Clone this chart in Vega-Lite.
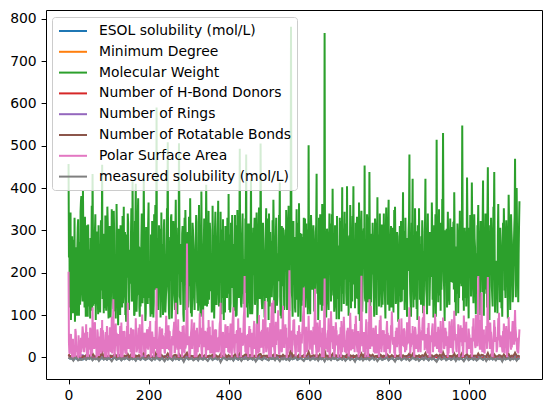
{
  "$schema": "https://vega.github.io/schema/vega-lite/v6.json",
  "width": 496,
  "height": 369,
  "autosize": {"type": "none"},
  "padding": {"left": 46, "top": 10, "right": 10, "bottom": 34},
  "background": "white",
  "datasets": {
    "small": [
{"i":0,"e":-1.0,"d":1,"h":7,"r":3,"b":7,"m":-0.8},
{"i":4,"e":-2.9,"d":1,"h":1,"r":2,"b":2,"m":-3.3},
{"i":8,"e":-2.6,"d":1,"h":0,"r":0,"b":4,"m":-2.1},
{"i":12,"e":-6.6,"d":2,"h":0,"r":5,"b":0,"m":-7.9},
{"i":16,"e":-2.2,"d":2,"h":0,"r":1,"b":0,"m":-1.3},
{"i":20,"e":-2.7,"d":2,"h":0,"r":2,"b":0,"m":-1.5},
{"i":24,"e":-6.5,"d":1,"h":0,"r":2,"b":1,"m":-7.3},
{"i":28,"e":-4.1,"d":1,"h":2,"r":4,"b":0,"m":-5.0},
{"i":32,"e":-4.5,"d":1,"h":0,"r":5,"b":0,"m":-6.3},
{"i":36,"e":-5.2,"d":1,"h":0,"r":5,"b":3,"m":-4.4},
{"i":40,"e":-1.8,"d":1,"h":1,"r":1,"b":2,"m":-2.0},
{"i":44,"e":-4.9,"d":1,"h":2,"r":3,"b":5,"m":-5.6},
{"i":48,"e":-1.4,"d":1,"h":0,"r":0,"b":1,"m":-1.1},
{"i":52,"e":-3.5,"d":1,"h":1,"r":2,"b":4,"m":-3.9},
{"i":56,"e":-0.9,"d":2,"h":0,"r":1,"b":0,"m":-0.4},
{"i":60,"e":-5.8,"d":1,"h":3,"r":3,"b":9,"m":-6.8},
{"i":64,"e":-2.4,"d":1,"h":0,"r":1,"b":3,"m":-2.6},
{"i":68,"e":-4.0,"d":1,"h":0,"r":0,"b":1,"m":-4.7},
{"i":72,"e":-2.3,"d":1,"h":2,"r":2,"b":6,"m":-1.9},
{"i":76,"e":-7.1,"d":2,"h":0,"r":2,"b":0,"m":-8.4},
{"i":80,"e":-3.4,"d":1,"h":1,"r":2,"b":4,"m":-3.1},
{"i":84,"e":-1.2,"d":1,"h":4,"r":2,"b":12,"m":-0.2},
{"i":88,"e":-4.6,"d":2,"h":0,"r":1,"b":0,"m":-5.2},
{"i":92,"e":-2.9,"d":1,"h":0,"r":3,"b":5,"m":-2.4},
{"i":96,"e":-5.1,"d":1,"h":1,"r":1,"b":2,"m":-6.0},
{"i":100,"e":-1.9,"d":1,"h":0,"r":0,"b":3,"m":-1.6},
{"i":104,"e":-3.7,"d":1,"h":1,"r":2,"b":4,"m":-4.1},
{"i":108,"e":-7.6,"d":1,"h":1,"r":4,"b":2,"m":-9.3},
{"i":112,"e":-2.1,"d":1,"h":4,"r":0,"b":3,"m":-2.8},
{"i":116,"e":-1.3,"d":1,"h":0,"r":1,"b":7,"m":-0.7},
{"i":120,"e":-5.0,"d":1,"h":1,"r":4,"b":3,"m":-5.5},
{"i":124,"e":-3.1,"d":2,"h":0,"r":1,"b":0,"m":-3.6},
{"i":128,"e":-1.7,"d":1,"h":1,"r":1,"b":5,"m":-1.2},
{"i":132,"e":-6.2,"d":1,"h":0,"r":3,"b":2,"m":-7.0},
{"i":136,"e":-2.6,"d":1,"h":0,"r":1,"b":1,"m":-2.2},
{"i":140,"e":-4.2,"d":1,"h":1,"r":2,"b":4,"m":-4.6},
{"i":144,"e":-1.5,"d":2,"h":0,"r":0,"b":2,"m":-0.9},
{"i":148,"e":-3.0,"d":1,"h":3,"r":2,"b":8,"m":-3.4},
{"i":152,"e":-5.8,"d":1,"h":0,"r":2,"b":1,"m":-6.5},
{"i":156,"e":-2.2,"d":1,"h":1,"r":2,"b":6,"m":-1.8},
{"i":160,"e":-4.4,"d":1,"h":1,"r":4,"b":3,"m":-4.9},
{"i":164,"e":-2.4,"d":2,"h":0,"r":1,"b":0,"m":-2.7},
{"i":168,"e":-6.9,"d":1,"h":2,"r":4,"b":4,"m":-8.0},
{"i":172,"e":-1.6,"d":1,"h":0,"r":1,"b":2,"m":-1.4},
{"i":176,"e":-3.3,"d":1,"h":1,"r":2,"b":5,"m":-3.0},
{"i":180,"e":-5.0,"d":1,"h":0,"r":1,"b":1,"m":-5.9},
{"i":184,"e":-1.1,"d":1,"h":3,"r":2,"b":7,"m":-0.6},
{"i":188,"e":-3.0,"d":1,"h":1,"r":3,"b":10,"m":-2.5},
{"i":192,"e":-5.5,"d":2,"h":0,"r":1,"b":0,"m":-6.2},
{"i":196,"e":-3.5,"d":1,"h":1,"r":2,"b":3,"m":-3.8},
{"i":200,"e":-1.4,"d":1,"h":1,"r":3,"b":5,"m":-1.0},
{"i":204,"e":-4.0,"d":1,"h":2,"r":1,"b":3,"m":-4.3},
{"i":208,"e":-6.6,"d":1,"h":0,"r":3,"b":1,"m":-7.6},
{"i":212,"e":-2.3,"d":2,"h":0,"r":1,"b":0,"m":-2.0},
{"i":216,"e":-4.6,"d":1,"h":0,"r":3,"b":4,"m":-5.1},
{"i":220,"e":-1.0,"d":1,"h":5,"r":4,"b":14,"m":-0.3},
{"i":224,"e":-3.0,"d":1,"h":0,"r":1,"b":2,"m":-3.2},
{"i":228,"e":-5.9,"d":1,"h":1,"r":3,"b":4,"m":-6.7},
{"i":232,"e":-2.0,"d":1,"h":1,"r":2,"b":6,"m":-1.7},
{"i":236,"e":-3.6,"d":1,"h":1,"r":0,"b":2,"m":-4.0},
{"i":240,"e":-7.8,"d":1,"h":0,"r":3,"b":1,"m":-9.0},
{"i":244,"e":-2.5,"d":1,"h":2,"r":1,"b":3,"m":-2.3},
{"i":248,"e":-4.8,"d":1,"h":1,"r":4,"b":9,"m":-5.4},
{"i":252,"e":-1.5,"d":1,"h":1,"r":0,"b":2,"m":-1.1},
{"i":256,"e":-3.4,"d":2,"h":0,"r":3,"b":2,"m":-3.7},
{"i":260,"e":-6.3,"d":1,"h":0,"r":2,"b":1,"m":-7.2},
{"i":264,"e":-1.0,"d":1,"h":2,"r":1,"b":5,"m":-0.5},
{"i":268,"e":-4.3,"d":1,"h":3,"r":3,"b":6,"m":-4.8},
{"i":272,"e":-2.6,"d":1,"h":0,"r":1,"b":1,"m":-2.9},
{"i":276,"e":-5.4,"d":1,"h":1,"r":4,"b":8,"m":-6.1},
{"i":280,"e":-1.9,"d":1,"h":0,"r":1,"b":3,"m":-1.5},
{"i":284,"e":-3.2,"d":2,"h":0,"r":3,"b":1,"m":-3.5},
{"i":288,"e":-8.6,"d":1,"h":0,"r":1,"b":0,"m":-10.4},
{"i":292,"e":-2.8,"d":1,"h":1,"r":2,"b":6,"m":-2.6},
{"i":296,"e":-1.3,"d":1,"h":6,"r":2,"b":11,"m":-0.8},
{"i":300,"e":-4.5,"d":1,"h":0,"r":2,"b":2,"m":-5.0},
{"i":304,"e":-3.1,"d":1,"h":0,"r":3,"b":4,"m":-3.3},
{"i":308,"e":-2.2,"d":1,"h":2,"r":0,"b":3,"m":-1.9},
{"i":312,"e":-6.0,"d":1,"h":0,"r":3,"b":2,"m":-6.9},
{"i":316,"e":-3.9,"d":1,"h":1,"r":2,"b":4,"m":-4.2},
{"i":320,"e":-2.4,"d":2,"h":0,"r":2,"b":1,"m":-2.1},
{"i":324,"e":-6.5,"d":1,"h":0,"r":2,"b":1,"m":-7.4},
{"i":328,"e":-0.9,"d":1,"h":3,"r":1,"b":6,"m":-0.4},
{"i":332,"e":-3.5,"d":1,"h":0,"r":4,"b":3,"m":-3.9},
{"i":336,"e":-4.9,"d":1,"h":2,"r":0,"b":2,"m":-5.7},
{"i":340,"e":-1.8,"d":1,"h":1,"r":2,"b":5,"m":-1.3},
{"i":344,"e":-4.1,"d":1,"h":0,"r":4,"b":2,"m":-4.5},
{"i":348,"e":-7.4,"d":1,"h":1,"r":2,"b":2,"m":-8.6},
{"i":352,"e":-2.6,"d":1,"h":1,"r":2,"b":4,"m":-2.4},
{"i":356,"e":-1.4,"d":1,"h":0,"r":1,"b":3,"m":-0.9},
{"i":360,"e":-5.6,"d":1,"h":2,"r":3,"b":6,"m":-6.3},
{"i":364,"e":-3.2,"d":2,"h":0,"r":1,"b":0,"m":-3.0},
{"i":368,"e":-1.9,"d":1,"h":1,"r":2,"b":5,"m":-1.6},
{"i":372,"e":-4.8,"d":1,"h":0,"r":2,"b":2,"m":-5.3},
{"i":376,"e":-2.5,"d":1,"h":0,"r":1,"b":1,"m":-2.7},
{"i":380,"e":-9.2,"d":1,"h":3,"r":3,"b":8,"m":-11.6},
{"i":384,"e":-3.8,"d":1,"h":1,"r":2,"b":3,"m":-4.1},
{"i":388,"e":-1.0,"d":2,"h":0,"r":0,"b":1,"m":-0.6},
{"i":392,"e":-3.3,"d":1,"h":1,"r":2,"b":6,"m":-3.6},
{"i":396,"e":-5.9,"d":1,"h":0,"r":2,"b":1,"m":-6.6},
{"i":400,"e":-2.3,"d":1,"h":0,"r":3,"b":5,"m":-1.9},
{"i":404,"e":-4.4,"d":1,"h":1,"r":1,"b":2,"m":-4.7},
{"i":408,"e":-2.0,"d":1,"h":0,"r":2,"b":3,"m":-2.2},
{"i":412,"e":-6.8,"d":1,"h":2,"r":2,"b":2,"m":-7.8},
{"i":416,"e":-0.9,"d":1,"h":1,"r":2,"b":7,"m":-0.2},
{"i":420,"e":-3.2,"d":1,"h":1,"r":1,"b":1,"m":-3.4},
{"i":424,"e":-5.2,"d":1,"h":2,"r":2,"b":4,"m":-5.8},
{"i":428,"e":-1.9,"d":1,"h":0,"r":4,"b":10,"m":-1.4},
{"i":432,"e":-7.0,"d":1,"h":1,"r":1,"b":1,"m":-8.2},
{"i":436,"e":-2.9,"d":1,"h":0,"r":2,"b":3,"m":-2.8},
{"i":440,"e":-4.0,"d":1,"h":4,"r":1,"b":5,"m":-4.4},
{"i":444,"e":-1.2,"d":1,"h":0,"r":3,"b":9,"m":-0.7},
{"i":448,"e":-5.3,"d":2,"h":1,"r":1,"b":0,"m":-6.0},
{"i":452,"e":-3.0,"d":1,"h":2,"r":2,"b":5,"m":-3.1},
{"i":456,"e":-2.1,"d":1,"h":1,"r":3,"b":6,"m":-1.8},
{"i":460,"e":-4.9,"d":1,"h":0,"r":2,"b":1,"m":-5.5},
{"i":464,"e":-2.8,"d":1,"h":2,"r":2,"b":4,"m":-2.5},
{"i":468,"e":-8.3,"d":1,"h":1,"r":3,"b":2,"m":-9.7},
{"i":472,"e":-3.6,"d":1,"h":0,"r":0,"b":2,"m":-4.0},
{"i":476,"e":-1.6,"d":1,"h":3,"r":2,"b":7,"m":-1.2},
{"i":480,"e":-3.5,"d":1,"h":1,"r":4,"b":8,"m":-3.8},
{"i":484,"e":-5.6,"d":1,"h":1,"r":2,"b":1,"m":-6.4},
{"i":488,"e":-1.1,"d":2,"h":0,"r":1,"b":4,"m":-0.5},
{"i":492,"e":-2.7,"d":1,"h":3,"r":1,"b":3,"m":-2.9},
{"i":496,"e":-4.7,"d":1,"h":1,"r":3,"b":4,"m":-5.1},
{"i":500,"e":-6.2,"d":1,"h":0,"r":1,"b":0,"m":-7.1},
{"i":504,"e":-1.9,"d":1,"h":2,"r":2,"b":5,"m":-1.6},
{"i":508,"e":-3.8,"d":1,"h":3,"r":1,"b":3,"m":-4.3},
{"i":512,"e":-2.4,"d":1,"h":3,"r":2,"b":6,"m":-2.0},
{"i":516,"e":-5.9,"d":2,"h":0,"r":2,"b":0,"m":-6.8},
{"i":520,"e":-1.3,"d":1,"h":1,"r":1,"b":5,"m":-0.9},
{"i":524,"e":-3.3,"d":1,"h":2,"r":1,"b":4,"m":-3.5},
{"i":528,"e":-7.5,"d":1,"h":0,"r":4,"b":3,"m":-8.8},
{"i":532,"e":-2.5,"d":1,"h":0,"r":1,"b":1,"m":-2.3},
{"i":536,"e":-4.3,"d":1,"h":2,"r":2,"b":6,"m":-4.9},
{"i":540,"e":-1.5,"d":1,"h":1,"r":1,"b":2,"m":-1.0},
{"i":544,"e":-5.2,"d":1,"h":1,"r":3,"b":4,"m":-5.9},
{"i":548,"e":-3.0,"d":1,"h":0,"r":2,"b":1,"m":-3.2},
{"i":552,"e":-6.3,"d":1,"h":4,"r":1,"b":4,"m":-7.5},
{"i":556,"e":-1.9,"d":1,"h":3,"r":6,"b":20,"m":-1.7},
{"i":560,"e":-4.1,"d":1,"h":1,"r":1,"b":1,"m":-4.6},
{"i":564,"e":-2.8,"d":1,"h":2,"r":2,"b":5,"m":-2.6},
{"i":568,"e":-0.8,"d":2,"h":0,"r":1,"b":2,"m":-0.3},
{"i":572,"e":-5.5,"d":1,"h":1,"r":2,"b":1,"m":-6.2},
{"i":576,"e":-3.4,"d":1,"h":1,"r":3,"b":6,"m":-3.7},
{"i":580,"e":-1.7,"d":1,"h":0,"r":0,"b":2,"m":-1.5},
{"i":584,"e":-4.6,"d":1,"h":1,"r":2,"b":3,"m":-5.2},
{"i":588,"e":-7.2,"d":1,"h":4,"r":3,"b":5,"m":-8.4},
{"i":592,"e":-2.3,"d":1,"h":1,"r":1,"b":2,"m":-2.1},
{"i":596,"e":-3.9,"d":1,"h":0,"r":2,"b":4,"m":-4.1},
{"i":600,"e":-1.1,"d":1,"h":1,"r":3,"b":13,"m":-0.8},
{"i":604,"e":-5.8,"d":1,"h":1,"r":2,"b":1,"m":-6.9},
{"i":608,"e":-3.0,"d":2,"h":0,"r":1,"b":3,"m":-3.3},
{"i":612,"e":-2.0,"d":1,"h":2,"r":2,"b":5,"m":-1.9},
{"i":616,"e":-4.9,"d":1,"h":4,"r":1,"b":3,"m":-5.6},
{"i":620,"e":-2.5,"d":1,"h":0,"r":4,"b":6,"m":-2.4},
{"i":624,"e":-6.5,"d":1,"h":1,"r":1,"b":0,"m":-7.7},
{"i":628,"e":-0.9,"d":1,"h":2,"r":1,"b":7,"m":-0.6},
{"i":632,"e":-4.0,"d":1,"h":1,"r":2,"b":3,"m":-4.5},
{"i":636,"e":-2.8,"d":1,"h":0,"r":1,"b":2,"m":-3.0},
{"i":640,"e":-7.9,"d":1,"h":4,"r":5,"b":16,"m":-9.4},
{"i":644,"e":-1.6,"d":1,"h":1,"r":1,"b":1,"m":-1.3},
{"i":648,"e":-4.4,"d":1,"h":2,"r":2,"b":4,"m":-5.0},
{"i":652,"e":-2.5,"d":2,"h":0,"r":3,"b":2,"m":-2.7},
{"i":656,"e":-5.5,"d":1,"h":2,"r":2,"b":3,"m":-6.5},
{"i":660,"e":-0.8,"d":1,"h":1,"r":3,"b":8,"m":-0.4},
{"i":664,"e":-3.7,"d":1,"h":0,"r":1,"b":1,"m":-3.9},
{"i":668,"e":-1.9,"d":1,"h":2,"r":2,"b":5,"m":-1.8},
{"i":672,"e":-6.1,"d":1,"h":1,"r":2,"b":2,"m":-7.0},
{"i":676,"e":-4.2,"d":1,"h":0,"r":0,"b":3,"m":-4.8},
{"i":680,"e":-2.4,"d":1,"h":1,"r":2,"b":6,"m":-2.2},
{"i":684,"e":-5.0,"d":1,"h":0,"r":4,"b":3,"m":-5.7},
{"i":688,"e":-1.4,"d":1,"h":2,"r":1,"b":2,"m":-1.1},
{"i":692,"e":-6.9,"d":1,"h":1,"r":3,"b":2,"m":-8.1},
{"i":696,"e":-3.2,"d":1,"h":1,"r":3,"b":7,"m":-3.4},
{"i":700,"e":-1.0,"d":2,"h":0,"r":1,"b":0,"m":-0.7},
{"i":704,"e":-5.3,"d":1,"h":2,"r":3,"b":5,"m":-6.1},
{"i":708,"e":-2.9,"d":1,"h":1,"r":1,"b":3,"m":-2.9},
{"i":712,"e":-3.8,"d":1,"h":0,"r":4,"b":4,"m":-4.2},
{"i":716,"e":-8.4,"d":1,"h":2,"r":2,"b":1,"m":-10.1},
{"i":720,"e":-1.7,"d":1,"h":0,"r":2,"b":5,"m":-1.4},
{"i":724,"e":-3.4,"d":1,"h":1,"r":2,"b":3,"m":-3.6},
{"i":728,"e":-4.6,"d":2,"h":0,"r":1,"b":0,"m":-5.3},
{"i":732,"e":-1.3,"d":1,"h":5,"r":2,"b":9,"m":-0.9},
{"i":736,"e":-6.0,"d":1,"h":1,"r":3,"b":2,"m":-7.3},
{"i":740,"e":-2.6,"d":1,"h":0,"r":4,"b":8,"m":-2.5},
{"i":744,"e":-4.3,"d":1,"h":2,"r":1,"b":2,"m":-4.7},
{"i":748,"e":-1.9,"d":1,"h":0,"r":2,"b":4,"m":-1.6},
{"i":752,"e":-5.7,"d":1,"h":3,"r":3,"b":6,"m":-6.7},
{"i":756,"e":-3.0,"d":1,"h":2,"r":1,"b":3,"m":-3.1},
{"i":760,"e":-1.0,"d":1,"h":1,"r":2,"b":6,"m":-0.5},
{"i":764,"e":-5.0,"d":1,"h":0,"r":1,"b":1,"m":-5.8},
{"i":768,"e":-2.3,"d":1,"h":1,"r":2,"b":3,"m":-2.0},
{"i":772,"e":-7.3,"d":1,"h":1,"r":4,"b":3,"m":-8.9},
{"i":776,"e":-3.5,"d":2,"h":0,"r":1,"b":1,"m":-3.8},
{"i":780,"e":-1.6,"d":1,"h":2,"r":2,"b":6,"m":-1.2},
{"i":784,"e":-5.5,"d":1,"h":0,"r":2,"b":2,"m":-6.3},
{"i":788,"e":-4.0,"d":1,"h":1,"r":3,"b":4,"m":-4.4},
{"i":792,"e":-2.6,"d":1,"h":0,"r":0,"b":2,"m":-2.8},
{"i":796,"e":-0.8,"d":1,"h":2,"r":1,"b":7,"m":-0.2},
{"i":800,"e":-6.2,"d":1,"h":1,"r":3,"b":3,"m":-7.2},
{"i":804,"e":-3.2,"d":1,"h":0,"r":2,"b":1,"m":-3.5},
{"i":808,"e":-1.9,"d":1,"h":3,"r":1,"b":5,"m":-1.7},
{"i":812,"e":-4.7,"d":1,"h":1,"r":1,"b":2,"m":-5.0},
{"i":816,"e":-8.2,"d":2,"h":0,"r":5,"b":1,"m":-9.9},
{"i":820,"e":-2.5,"d":1,"h":1,"r":2,"b":4,"m":-2.3},
{"i":824,"e":-3.7,"d":1,"h":1,"r":0,"b":2,"m":-4.0},
{"i":828,"e":-1.2,"d":1,"h":0,"r":2,"b":6,"m":-0.8},
{"i":832,"e":-5.9,"d":1,"h":2,"r":2,"b":2,"m":-6.6},
{"i":836,"e":-3.1,"d":1,"h":1,"r":3,"b":5,"m":-3.2},
{"i":840,"e":-1.8,"d":1,"h":1,"r":1,"b":2,"m":-1.5},
{"i":844,"e":-4.8,"d":1,"h":0,"r":2,"b":3,"m":-5.4},
{"i":848,"e":-2.7,"d":1,"h":1,"r":2,"b":4,"m":-2.6},
{"i":852,"e":-6.7,"d":1,"h":3,"r":3,"b":9,"m":-7.9},
{"i":856,"e":-4.2,"d":1,"h":0,"r":1,"b":1,"m":-4.6},
{"i":860,"e":-1.1,"d":1,"h":2,"r":3,"b":8,"m":-0.6},
{"i":864,"e":-2.9,"d":2,"h":0,"r":1,"b":0,"m":-3.0},
{"i":868,"e":-5.3,"d":1,"h":1,"r":3,"b":4,"m":-6.0},
{"i":872,"e":-2.1,"d":1,"h":1,"r":0,"b":2,"m":-1.9},
{"i":876,"e":-7.1,"d":1,"h":2,"r":3,"b":5,"m":-8.5},
{"i":880,"e":-3.9,"d":1,"h":0,"r":2,"b":2,"m":-4.3},
{"i":884,"e":-2.3,"d":1,"h":1,"r":2,"b":5,"m":-2.1},
{"i":888,"e":-5.1,"d":1,"h":3,"r":1,"b":3,"m":-5.9},
{"i":892,"e":-0.9,"d":1,"h":1,"r":3,"b":10,"m":-0.4},
{"i":896,"e":-3.4,"d":1,"h":0,"r":1,"b":1,"m":-3.7},
{"i":900,"e":-6.3,"d":1,"h":2,"r":3,"b":3,"m":-7.4},
{"i":904,"e":-1.6,"d":2,"h":0,"r":1,"b":3,"m":-1.3},
{"i":908,"e":-4.5,"d":1,"h":1,"r":3,"b":5,"m":-4.9},
{"i":912,"e":-2.6,"d":1,"h":0,"r":1,"b":1,"m":-2.4},
{"i":916,"e":-5.6,"d":1,"h":2,"r":2,"b":4,"m":-6.4},
{"i":920,"e":-8.6,"d":1,"h":0,"r":5,"b":6,"m":-10.6},
{"i":924,"e":-3.1,"d":1,"h":1,"r":1,"b":2,"m":-3.3},
{"i":928,"e":-1.4,"d":1,"h":1,"r":2,"b":6,"m":-1.0},
{"i":932,"e":-4.8,"d":1,"h":0,"r":2,"b":2,"m":-5.5},
{"i":936,"e":-2.6,"d":1,"h":2,"r":4,"b":12,"m":-2.9},
{"i":940,"e":-1.1,"d":1,"h":0,"r":0,"b":2,"m":-0.7},
{"i":944,"e":-6.0,"d":1,"h":1,"r":3,"b":3,"m":-7.0},
{"i":948,"e":-3.8,"d":2,"h":0,"r":3,"b":4,"m":-4.1},
{"i":952,"e":-2.0,"d":1,"h":2,"r":1,"b":3,"m":-1.8},
{"i":956,"e":-5.4,"d":1,"h":1,"r":2,"b":3,"m":-6.2},
{"i":960,"e":-3.3,"d":1,"h":0,"r":2,"b":2,"m":-3.6},
{"i":964,"e":-1.3,"d":1,"h":3,"r":2,"b":9,"m":-0.9},
{"i":968,"e":-6.9,"d":1,"h":1,"r":1,"b":1,"m":-8.3},
{"i":972,"e":-2.5,"d":1,"h":0,"r":2,"b":5,"m":-2.2},
{"i":976,"e":-4.5,"d":2,"h":0,"r":2,"b":0,"m":-5.1},
{"i":980,"e":-1.8,"d":1,"h":2,"r":2,"b":5,"m":-1.4},
{"i":984,"e":-4.0,"d":1,"h":1,"r":5,"b":11,"m":-4.5},
{"i":988,"e":-7.6,"d":1,"h":2,"r":2,"b":1,"m":-9.1},
{"i":992,"e":-2.8,"d":1,"h":1,"r":2,"b":4,"m":-2.7},
{"i":996,"e":-1.0,"d":1,"h":0,"r":3,"b":8,"m":-0.5},
{"i":1000,"e":-5.8,"d":1,"h":1,"r":1,"b":1,"m":-6.8},
{"i":1004,"e":-3.5,"d":1,"h":1,"r":3,"b":4,"m":-3.9},
{"i":1008,"e":-1.9,"d":2,"h":0,"r":3,"b":6,"m":-1.6},
{"i":1012,"e":-4.9,"d":1,"h":2,"r":1,"b":3,"m":-5.7},
{"i":1016,"e":-2.3,"d":1,"h":1,"r":2,"b":4,"m":-2.0},
{"i":1020,"e":-6.4,"d":1,"h":0,"r":3,"b":2,"m":-7.6},
{"i":1024,"e":-3.6,"d":1,"h":5,"r":2,"b":9,"m":-4.2},
{"i":1028,"e":-0.9,"d":1,"h":0,"r":0,"b":2,"m":-0.3},
{"i":1032,"e":-3.1,"d":1,"h":3,"r":2,"b":6,"m":-3.4},
{"i":1036,"e":-5.2,"d":1,"h":1,"r":4,"b":5,"m":-6.1},
{"i":1040,"e":-1.5,"d":1,"h":0,"r":1,"b":2,"m":-1.1},
{"i":1044,"e":-7.0,"d":1,"h":1,"r":3,"b":2,"m":-8.7},
{"i":1048,"e":-2.6,"d":1,"h":4,"r":3,"b":10,"m":-2.5},
{"i":1052,"e":-4.2,"d":2,"h":0,"r":1,"b":0,"m":-4.8},
{"i":1056,"e":-1.2,"d":1,"h":1,"r":2,"b":6,"m":-0.8},
{"i":1060,"e":-4.7,"d":1,"h":0,"r":1,"b":1,"m":-5.3},
{"i":1064,"e":-3.0,"d":1,"h":2,"r":3,"b":7,"m":-3.1},
{"i":1068,"e":-6.1,"d":1,"h":1,"r":2,"b":2,"m":-7.1},
{"i":1072,"e":-2.0,"d":1,"h":0,"r":1,"b":2,"m":-1.7},
{"i":1076,"e":-3.9,"d":1,"h":3,"r":2,"b":5,"m":-4.4},
{"i":1080,"e":-2.4,"d":1,"h":1,"r":2,"b":4,"m":-2.3},
{"i":1084,"e":-8.0,"d":1,"h":0,"r":2,"b":0,"m":-9.6},
{"i":1088,"e":-1.1,"d":1,"h":2,"r":2,"b":7,"m":-0.6},
{"i":1092,"e":-4.5,"d":2,"h":0,"r":2,"b":1,"m":-5.0},
{"i":1096,"e":-3.2,"d":1,"h":0,"r":2,"b":3,"m":-3.5},
{"i":1100,"e":-1.6,"d":1,"h":2,"r":3,"b":8,"m":-1.2},
{"i":1104,"e":-5.7,"d":1,"h":1,"r":1,"b":1,"m":-6.7},
{"i":1108,"e":-2.9,"d":1,"h":0,"r":2,"b":4,"m":-2.8},
{"i":1112,"e":-4.0,"d":1,"h":1,"r":2,"b":3,"m":-4.6},
{"i":1116,"e":-1.0,"d":1,"h":3,"r":3,"b":11,"m":-0.4},
{"i":1120,"e":-6.5,"d":1,"h":1,"r":4,"b":4,"m":-7.7},
{"i":1124,"e":-2.7,"d":1,"h":0,"r":1,"b":2,"m":-2.6},
{"i":1127,"e":-3.6,"d":1,"h":1,"r":3,"b":5,"m":-4.0}
    ],
    "big": [
{"i":0,"w":457,"p":202},{"i":2,"w":320,"p":12},{"i":4,"w":201,"p":42},{"i":6,"w":88,"p":55},
{"i":8,"w":152,"p":17},{"i":10,"w":230,"p":0},{"i":12,"w":278,"p":0},{"i":14,"w":128,"p":26},
{"i":16,"w":84,"p":0},{"i":18,"w":196,"p":60},{"i":20,"w":135,"p":13},{"i":22,"w":262,"p":9},
{"i":24,"w":326,"p":0},{"i":26,"w":98,"p":33},{"i":28,"w":272,"p":40},{"i":30,"w":344,"p":0},
{"i":32,"w":381,"p":13},{"i":34,"w":150,"p":47},{"i":36,"w":394,"p":63},{"i":38,"w":228,"p":20},
{"i":40,"w":118,"p":26},{"i":42,"w":274,"p":58},{"i":44,"w":312,"p":78},{"i":46,"w":136,"p":0},
{"i":48,"w":96,"p":9},{"i":50,"w":204,"p":37},{"i":52,"w":255,"p":46},{"i":54,"w":92,"p":70},
{"i":56,"w":142,"p":0},{"i":58,"w":358,"p":17},{"i":60,"w":433,"p":118},{"i":62,"w":122,"p":40},
{"i":64,"w":180,"p":20},{"i":66,"w":300,"p":83},{"i":68,"w":88,"p":37},{"i":70,"w":212,"p":0},
{"i":72,"w":297,"p":66},{"i":74,"w":102,"p":26},{"i":76,"w":130,"p":3},{"i":78,"w":266,"p":49},
{"i":80,"w":240,"p":52},{"i":82,"w":158,"p":9},{"i":84,"w":455,"p":88},{"i":86,"w":286,"p":64},
{"i":88,"w":104,"p":12},{"i":90,"w":232,"p":30},{"i":92,"w":335,"p":29},{"i":94,"w":110,"p":0},
{"i":96,"w":158,"p":74},{"i":98,"w":318,"p":52},{"i":100,"w":92,"p":0},{"i":102,"w":248,"p":38},
{"i":104,"w":268,"p":45},{"i":106,"w":138,"p":12},{"i":108,"w":350,"p":96},{"i":110,"w":176,"p":66},
{"i":112,"w":114,"p":137},{"i":114,"w":296,"p":24},{"i":116,"w":206,"p":20},{"i":118,"w":92,"p":80},
{"i":120,"w":362,"p":58},{"i":122,"w":154,"p":17},{"i":124,"w":76,"p":0},{"i":126,"w":264,"p":45},
{"i":128,"w":188,"p":35},{"i":130,"w":312,"p":0},{"i":132,"w":298,"p":82},{"i":134,"w":118,"p":62},
{"i":136,"w":128,"p":17},{"i":138,"w":356,"p":36},{"i":140,"w":244,"p":60},{"i":142,"w":100,"p":9},
{"i":144,"w":84,"p":9},{"i":146,"w":290,"p":74},{"i":148,"w":340,"p":129},{"i":150,"w":184,"p":20},
{"i":152,"w":170,"p":26},{"i":154,"w":254,"p":53},{"i":156,"w":286,"p":70},{"i":158,"w":132,"p":0},
{"i":160,"w":416,"p":44},{"i":162,"w":202,"p":66},{"i":164,"w":98,"p":0},{"i":166,"w":322,"p":29},
{"i":168,"w":410,"p":92},{"i":170,"w":108,"p":12},{"i":172,"w":150,"p":23},{"i":174,"w":376,"p":48},
{"i":176,"w":262,"p":55},{"i":178,"w":96,"p":78},{"i":180,"w":120,"p":12},{"i":182,"w":280,"p":0},
{"i":184,"w":318,"p":101},{"i":186,"w":168,"p":40},{"i":188,"w":419,"p":38},{"i":190,"w":140,"p":58},
{"i":192,"w":86,"p":0},{"i":194,"w":308,"p":21},{"i":196,"w":230,"p":64},{"i":198,"w":126,"p":35},
{"i":200,"w":366,"p":30},{"i":202,"w":182,"p":72},{"i":204,"w":134,"p":86},{"i":206,"w":290,"p":0},
{"i":208,"w":196,"p":9},{"i":210,"w":102,"p":50},{"i":212,"w":94,"p":47},{"i":214,"w":338,"p":26},
{"i":216,"w":304,"p":20},{"i":218,"w":160,"p":86},{"i":220,"w":590,"p":163},{"i":222,"w":128,"p":12},
{"i":224,"w":112,"p":0},{"i":226,"w":312,"p":44},{"i":228,"w":276,"p":72},{"i":230,"w":94,"p":9},
{"i":232,"w":342,"p":36},{"i":234,"w":234,"p":68},{"i":236,"w":100,"p":52},{"i":238,"w":300,"p":30},
{"i":240,"w":224,"p":12},{"i":242,"w":106,"p":55},{"i":244,"w":160,"p":98},{"i":246,"w":352,"p":20},
{"i":248,"w":508,"p":26},{"i":250,"w":150,"p":76},{"i":252,"w":90,"p":61},{"i":254,"w":284,"p":0},
{"i":256,"w":330,"p":0},{"i":258,"w":92,"p":37},{"i":260,"w":146,"p":40},{"i":262,"w":322,"p":62},
{"i":264,"w":258,"p":84},{"i":266,"w":112,"p":12},{"i":268,"w":372,"p":129},{"i":270,"w":186,"p":47},
{"i":272,"w":102,"p":18},{"i":274,"w":306,"p":90},{"i":276,"w":506,"p":57},{"i":278,"w":144,"p":23},
{"i":280,"w":124,"p":33},{"i":282,"w":268,"p":60},{"i":284,"w":292,"p":0},{"i":286,"w":184,"p":41},
{"i":288,"w":84,"p":76},{"i":290,"w":330,"p":9},{"i":292,"w":348,"p":21},{"i":294,"w":112,"p":68},
{"i":296,"w":210,"p":269},{"i":298,"w":296,"p":29},{"i":300,"w":138,"p":46},{"i":302,"w":254,"p":0},
{"i":304,"w":376,"p":9},{"i":306,"w":104,"p":57},{"i":308,"w":96,"p":90},{"i":310,"w":318,"p":35},
{"i":312,"w":264,"p":29},{"i":314,"w":142,"p":82},{"i":316,"w":186,"p":64},{"i":318,"w":292,"p":12},
{"i":320,"w":320,"p":0},{"i":322,"w":128,"p":46},{"i":324,"w":110,"p":52},{"i":326,"w":360,"p":24},
{"i":328,"w":242,"p":104},{"i":330,"w":96,"p":70},{"i":332,"w":392,"p":20},{"i":334,"w":176,"p":0},
{"i":336,"w":80,"p":113},{"i":338,"w":262,"p":38},{"i":340,"w":300,"p":37},{"i":342,"w":214,"p":63},
{"i":344,"w":408,"p":12},{"i":346,"w":120,"p":17},{"i":348,"w":126,"p":70},{"i":350,"w":346,"p":88},
{"i":352,"w":234,"p":44},{"i":354,"w":300,"p":9},{"i":356,"w":156,"p":26},{"i":358,"w":106,"p":52},
{"i":360,"w":358,"p":87},{"i":362,"w":226,"p":30},{"i":364,"w":92,"p":0},{"i":366,"w":304,"p":66},
{"i":368,"w":282,"p":58},{"i":370,"w":126,"p":12},{"i":372,"w":174,"p":33},{"i":374,"w":370,"p":45},
{"i":376,"w":120,"p":18},{"i":378,"w":236,"p":80},{"i":380,"w":344,"p":129},{"i":382,"w":102,"p":0},
{"i":384,"w":212,"p":49},{"i":386,"w":326,"p":60},{"i":388,"w":88,"p":9},{"i":390,"w":148,"p":26},
{"i":392,"w":310,"p":78},{"i":394,"w":194,"p":40},{"i":396,"w":140,"p":40},{"i":398,"w":292,"p":74},
{"i":400,"w":386,"p":21},{"i":402,"w":112,"p":9},{"i":404,"w":106,"p":66},{"i":406,"w":318,"p":50},
{"i":408,"w":248,"p":0},{"i":410,"w":164,"p":86},{"i":412,"w":164,"p":118},{"i":414,"w":268,"p":20},
{"i":416,"w":336,"p":35},{"i":418,"w":96,"p":36},{"i":420,"w":98,"p":60},{"i":422,"w":348,"p":0},
{"i":424,"w":270,"p":92},{"i":426,"w":140,"p":70},{"i":428,"w":493,"p":12},{"i":430,"w":182,"p":29},
{"i":432,"w":118,"p":47},{"i":434,"w":302,"p":58},{"i":436,"w":222,"p":28},{"i":438,"w":126,"p":95},
{"i":440,"w":152,"p":192},{"i":442,"w":328,"p":12},{"i":444,"w":479,"p":9},{"i":446,"w":190,"p":44},
{"i":448,"w":94,"p":55},{"i":450,"w":252,"p":26},{"i":452,"w":316,"p":74},{"i":454,"w":102,"p":67},
{"i":456,"w":420,"p":30},{"i":458,"w":222,"p":0},{"i":460,"w":130,"p":0},{"i":462,"w":306,"p":52},
{"i":464,"w":288,"p":86},{"i":466,"w":124,"p":38},{"i":468,"w":180,"p":43},{"i":470,"w":342,"p":80},
{"i":472,"w":76,"p":20},{"i":474,"w":260,"p":9},{"i":476,"w":354,"p":100},{"i":478,"w":138,"p":61},
{"i":480,"w":505,"p":38},{"i":482,"w":156,"p":23},{"i":484,"w":114,"p":64},{"i":486,"w":318,"p":90},
{"i":488,"w":236,"p":12},{"i":490,"w":94,"p":46},{"i":492,"w":170,"p":133},{"i":494,"w":352,"p":12},
{"i":496,"w":328,"p":47},{"i":498,"w":132,"p":71},{"i":500,"w":88,"p":26},{"i":502,"w":266,"p":35},
{"i":504,"w":296,"p":81},{"i":506,"w":190,"p":0},{"i":508,"w":142,"p":129},{"i":510,"w":324,"p":56},
{"i":512,"w":372,"p":135},{"i":514,"w":110,"p":20},{"i":516,"w":104,"p":0},{"i":518,"w":280,"p":84},
{"i":520,"w":262,"p":58},{"i":522,"w":144,"p":40},{"i":524,"w":198,"p":111},{"i":526,"w":336,"p":9},
{"i":528,"w":413,"p":32},{"i":530,"w":98,"p":66},{"i":532,"w":92,"p":17},{"i":534,"w":260,"p":28},
{"i":536,"w":306,"p":122},{"i":538,"w":186,"p":52},{"i":540,"w":124,"p":44},{"i":542,"w":302,"p":78},
{"i":544,"w":348,"p":70},{"i":546,"w":112,"p":0},{"i":548,"w":160,"p":9},{"i":550,"w":358,"p":44},
{"i":552,"w":110,"p":206},{"i":554,"w":240,"p":17},{"i":556,"w":781,"p":29},{"i":558,"w":154,"p":63},
{"i":560,"w":96,"p":53},{"i":562,"w":322,"p":88},{"i":564,"w":284,"p":90},{"i":566,"w":118,"p":26},
{"i":568,"w":218,"p":0},{"i":570,"w":350,"p":49},{"i":572,"w":136,"p":38},{"i":574,"w":96,"p":12},
{"i":576,"w":364,"p":76},{"i":578,"w":208,"p":60},{"i":580,"w":84,"p":20},{"i":582,"w":292,"p":35},
{"i":584,"w":252,"p":61},{"i":586,"w":134,"p":96},{"i":588,"w":330,"p":165},{"i":590,"w":168,"p":0},
{"i":592,"w":118,"p":35},{"i":594,"w":316,"p":72},{"i":596,"w":274,"p":12},{"i":598,"w":102,"p":40},
{"i":600,"w":501,"p":98},{"i":602,"w":176,"p":20},{"i":604,"w":102,"p":46},{"i":606,"w":336,"p":64},
{"i":608,"w":190,"p":26},{"i":610,"w":240,"p":9},{"i":612,"w":312,"p":72},{"i":614,"w":108,"p":50},
{"i":616,"w":146,"p":162},{"i":618,"w":296,"p":31},{"i":620,"w":434,"p":0},{"i":622,"w":150,"p":82},
{"i":624,"w":88,"p":55},{"i":626,"w":330,"p":17},{"i":628,"w":268,"p":88},{"i":630,"w":124,"p":45},
{"i":632,"w":206,"p":37},{"i":634,"w":362,"p":70},{"i":636,"w":122,"p":17},{"i":638,"w":266,"p":0},
{"i":640,"w":766,"p":186},{"i":642,"w":124,"p":55},{"i":644,"w":94,"p":29},{"i":646,"w":304,"p":36},
{"i":648,"w":238,"p":64},{"i":650,"w":112,"p":92},{"i":652,"w":340,"p":9},{"i":654,"w":196,"p":12},
{"i":656,"w":132,"p":109},{"i":658,"w":338,"p":48},{"i":660,"w":398,"p":40},{"i":662,"w":146,"p":74},
{"i":664,"w":108,"p":0},{"i":666,"w":312,"p":20},{"i":668,"w":286,"p":83},{"i":670,"w":90,"p":62},
{"i":672,"w":176,"p":52},{"i":674,"w":256,"p":0},{"i":676,"w":90,"p":24},{"i":678,"w":330,"p":40},
{"i":680,"w":322,"p":71},{"i":682,"w":108,"p":86},{"i":684,"w":402,"p":12},{"i":686,"w":198,"p":29},
{"i":688,"w":126,"p":96},{"i":690,"w":344,"p":52},{"i":692,"w":250,"p":36},{"i":694,"w":152,"p":9},
{"i":696,"w":404,"p":58},{"i":698,"w":130,"p":70},{"i":700,"w":98,"p":0},{"i":702,"w":288,"p":44},
{"i":704,"w":360,"p":105},{"i":706,"w":116,"p":17},{"i":708,"w":150,"p":44},{"i":710,"w":334,"p":66},
{"i":712,"w":404,"p":20},{"i":714,"w":172,"p":35},{"i":716,"w":116,"p":79},{"i":718,"w":318,"p":98},
{"i":720,"w":294,"p":31},{"i":722,"w":138,"p":12},{"i":724,"w":184,"p":62},{"i":726,"w":366,"p":50},
{"i":728,"w":86,"p":9},{"i":730,"w":224,"p":78},{"i":732,"w":346,"p":193},{"i":734,"w":108,"p":26},
{"i":736,"w":228,"p":47},{"i":738,"w":304,"p":60},{"i":740,"w":453,"p":26},{"i":742,"w":132,"p":0},
{"i":744,"w":104,"p":90},{"i":746,"w":338,"p":42},{"i":748,"w":270,"p":0},{"i":750,"w":160,"p":84},
{"i":752,"w":438,"p":137},{"i":754,"w":112,"p":20},{"i":756,"w":130,"p":121},{"i":758,"w":292,"p":56},
{"i":760,"w":318,"p":40},{"i":762,"w":186,"p":70},{"i":764,"w":96,"p":18},{"i":766,"w":328,"p":9},
{"i":768,"w":200,"p":75},{"i":770,"w":100,"p":46},{"i":772,"w":378,"p":55},{"i":774,"w":232,"p":30},
{"i":776,"w":120,"p":0},{"i":778,"w":340,"p":88},{"i":780,"w":266,"p":99},{"i":782,"w":118,"p":12},
{"i":784,"w":158,"p":33},{"i":786,"w":296,"p":64},{"i":788,"w":340,"p":64},{"i":790,"w":164,"p":40},
{"i":792,"w":92,"p":12},{"i":794,"w":354,"p":0},{"i":796,"w":288,"p":86},{"i":798,"w":124,"p":58},
{"i":800,"w":372,"p":46},{"i":802,"w":110,"p":26},{"i":804,"w":138,"p":21},{"i":806,"w":310,"p":76},
{"i":808,"w":232,"p":108},{"i":810,"w":188,"p":44},{"i":812,"w":106,"p":37},{"i":814,"w":348,"p":12},
{"i":816,"w":356,"p":0},{"i":818,"w":126,"p":62},{"i":820,"w":180,"p":70},{"i":822,"w":286,"p":35},
{"i":824,"w":84,"p":52},{"i":826,"w":242,"p":90},{"i":828,"w":310,"p":9},{"i":830,"w":130,"p":0},
{"i":832,"w":146,"p":92},{"i":834,"w":254,"p":50},{"i":836,"w":390,"p":29},{"i":838,"w":160,"p":68},
{"i":840,"w":112,"p":60},{"i":842,"w":330,"p":20},{"i":844,"w":264,"p":17},{"i":846,"w":96,"p":83},
{"i":848,"w":204,"p":40},{"i":850,"w":302,"p":38},{"i":852,"w":479,"p":118},{"i":854,"w":150,"p":9},
{"i":856,"w":96,"p":26},{"i":858,"w":318,"p":57},{"i":860,"w":422,"p":74},{"i":862,"w":118,"p":29},
{"i":864,"w":136,"p":0},{"i":866,"w":352,"p":72},{"i":868,"w":298,"p":53},{"i":870,"w":114,"p":46},
{"i":872,"w":88,"p":35},{"i":874,"w":268,"p":12},{"i":876,"w":352,"p":97},{"i":878,"w":136,"p":64},
{"i":880,"w":170,"p":12},{"i":882,"w":286,"p":40},{"i":884,"w":324,"p":66},{"i":886,"w":104,"p":94},
{"i":888,"w":118,"p":122},{"i":890,"w":214,"p":17},{"i":892,"w":422,"p":44},{"i":894,"w":160,"p":55},
{"i":896,"w":102,"p":20},{"i":898,"w":340,"p":70},{"i":900,"w":276,"p":81},{"i":902,"w":122,"p":0},
{"i":904,"w":214,"p":0},{"i":906,"w":296,"p":47},{"i":908,"w":366,"p":58},{"i":910,"w":136,"p":80},
{"i":912,"w":94,"p":37},{"i":914,"w":312,"p":26},{"i":916,"w":248,"p":103},{"i":918,"w":96,"p":36},
{"i":920,"w":514,"p":26},{"i":922,"w":162,"p":60},{"i":924,"w":130,"p":72},{"i":926,"w":350,"p":12},
{"i":928,"w":302,"p":48},{"i":930,"w":110,"p":86},{"i":932,"w":160,"p":9},{"i":934,"w":374,"p":44},
{"i":936,"w":530,"p":94},{"i":938,"w":182,"p":23},{"i":940,"w":86,"p":30},{"i":942,"w":300,"p":70},
{"i":944,"w":268,"p":61},{"i":946,"w":118,"p":38},{"i":948,"w":344,"p":0},{"i":950,"w":152,"p":9},
{"i":952,"w":124,"p":85},{"i":954,"w":328,"p":58},{"i":956,"w":226,"p":42},{"i":958,"w":290,"p":90},
{"i":960,"w":176,"p":18},{"i":962,"w":320,"p":32},{"i":964,"w":390,"p":110},{"i":966,"w":130,"p":50},
{"i":968,"w":98,"p":55},{"i":970,"w":262,"p":12},{"i":972,"w":316,"p":35},{"i":974,"w":104,"p":78},
{"i":976,"w":140,"p":0},{"i":978,"w":346,"p":44},{"i":980,"w":284,"p":76},{"i":982,"w":168,"p":64},
{"i":984,"w":548,"p":26},{"i":986,"w":134,"p":0},{"i":988,"w":110,"p":99},{"i":990,"w":306,"p":36},
{"i":992,"w":240,"p":47},{"i":994,"w":120,"p":84},{"i":996,"w":425,"p":12},{"i":998,"w":184,"p":20},
{"i":1000,"w":92,"p":68},{"i":1002,"w":306,"p":52},{"i":1004,"w":336,"p":38},{"i":1006,"w":144,"p":9},
{"i":1008,"w":413,"p":0},{"i":1010,"w":180,"p":73},{"i":1012,"w":128,"p":92},{"i":1014,"w":338,"p":40},
{"i":1016,"w":260,"p":29},{"i":1018,"w":102,"p":100},{"i":1020,"w":188,"p":57},{"i":1022,"w":312,"p":26},
{"i":1024,"w":360,"p":192},{"i":1026,"w":136,"p":60},{"i":1028,"w":100,"p":20},{"i":1030,"w":322,"p":88},
{"i":1032,"w":292,"p":153},{"i":1034,"w":154,"p":12},{"i":1036,"w":418,"p":46},{"i":1038,"w":98,"p":66},
{"i":1040,"w":150,"p":9},{"i":1042,"w":340,"p":44},{"i":1044,"w":214,"p":74},{"i":1046,"w":118,"p":20},
{"i":1048,"w":449,"p":190},{"i":1050,"w":262,"p":56},{"i":1052,"w":88,"p":35},{"i":1054,"w":312,"p":82},
{"i":1056,"w":330,"p":60},{"i":1058,"w":168,"p":0},{"i":1060,"w":120,"p":0},{"i":1062,"w":356,"p":38},
{"i":1064,"w":438,"p":88},{"i":1066,"w":106,"p":70},{"i":1068,"w":172,"p":43},{"i":1070,"w":226,"p":12},
{"i":1072,"w":104,"p":26},{"i":1074,"w":362,"p":92},{"i":1076,"w":300,"p":105},{"i":1078,"w":130,"p":48},
{"i":1080,"w":264,"p":52},{"i":1082,"w":116,"p":26},{"i":1084,"w":96,"p":17},{"i":1086,"w":318,"p":62},
{"i":1088,"w":352,"p":80},{"i":1090,"w":158,"p":9},{"i":1092,"w":140,"p":37},{"i":1094,"w":324,"p":74},
{"i":1096,"w":238,"p":0},{"i":1098,"w":92,"p":40},{"i":1100,"w":384,"p":95},{"i":1102,"w":204,"p":55},
{"i":1104,"w":112,"p":61},{"i":1106,"w":338,"p":18},{"i":1108,"w":276,"p":23},{"i":1110,"w":130,"p":86},
{"i":1112,"w":186,"p":70},{"i":1114,"w":304,"p":30},{"i":1116,"w":469,"p":112},{"i":1118,"w":142,"p":60},
{"i":1120,"w":400,"p":40},{"i":1122,"w":206,"p":12},{"i":1124,"w":130,"p":9},{"i":1126,"w":314,"p":48},
{"i":1127,"w":369,"p":66},
{"i":1,"w":236,"p":35},{"i":3,"w":118,"p":8},{"i":5,"w":342,"p":51},{"i":7,"w":164,"p":22},
{"i":9,"w":286,"p":0},{"i":11,"w":104,"p":44},{"i":13,"w":212,"p":29},{"i":15,"w":330,"p":12},
{"i":17,"w":150,"p":67},{"i":19,"w":260,"p":38},{"i":21,"w":98,"p":20},{"i":23,"w":306,"p":0},
{"i":25,"w":186,"p":52},{"i":27,"w":242,"p":31},{"i":29,"w":124,"p":9},{"i":31,"w":368,"p":46},
{"i":33,"w":210,"p":26},{"i":35,"w":132,"p":73},{"i":37,"w":288,"p":40},{"i":39,"w":176,"p":12},
{"i":41,"w":332,"p":55},{"i":43,"w":96,"p":23},{"i":45,"w":254,"p":37},{"i":47,"w":198,"p":60},
{"i":49,"w":314,"p":0},{"i":51,"w":120,"p":42},{"i":53,"w":172,"p":18},{"i":55,"w":282,"p":64},
{"i":57,"w":240,"p":29},{"i":59,"w":110,"p":9},{"i":61,"w":296,"p":50},{"i":63,"w":214,"p":34},
{"i":65,"w":126,"p":77},{"i":67,"w":338,"p":21},{"i":69,"w":184,"p":45},{"i":71,"w":252,"p":0},
{"i":73,"w":142,"p":58},{"i":75,"w":312,"p":26},{"i":77,"w":200,"p":40},{"i":79,"w":106,"p":12},
{"i":81,"w":324,"p":69},{"i":83,"w":264,"p":33},{"i":85,"w":138,"p":17},{"i":87,"w":218,"p":52},
{"i":89,"w":292,"p":24},{"i":91,"w":116,"p":0},{"i":93,"w":250,"p":60},{"i":95,"w":182,"p":38},
{"i":97,"w":356,"p":12},{"i":99,"w":130,"p":47},{"i":101,"w":204,"p":29},{"i":103,"w":310,"p":71},
{"i":105,"w":94,"p":20},{"i":107,"w":226,"p":44},{"i":109,"w":272,"p":9},{"i":111,"w":160,"p":58},
{"i":113,"w":346,"p":35},{"i":115,"w":108,"p":0},{"i":117,"w":244,"p":63},{"i":119,"w":196,"p":26},
{"i":121,"w":288,"p":41},{"i":123,"w":134,"p":12},{"i":125,"w":304,"p":55},{"i":127,"w":220,"p":30},
{"i":129,"w":100,"p":74},{"i":131,"w":266,"p":18},{"i":133,"w":180,"p":43},{"i":135,"w":334,"p":0},
{"i":137,"w":148,"p":37},{"i":139,"w":208,"p":62},{"i":141,"w":296,"p":20},{"i":143,"w":122,"p":48},
{"i":145,"w":256,"p":9},{"i":147,"w":188,"p":34},{"i":149,"w":316,"p":79},{"i":151,"w":112,"p":26},
{"i":153,"w":238,"p":52},{"i":155,"w":174,"p":12},{"i":157,"w":352,"p":40},{"i":159,"w":136,"p":66},
{"i":161,"w":278,"p":23},{"i":163,"w":210,"p":0},{"i":165,"w":102,"p":46},{"i":167,"w":298,"p":31},
{"i":169,"w":228,"p":57},{"i":171,"w":146,"p":17},{"i":173,"w":326,"p":40},{"i":175,"w":192,"p":70},
{"i":177,"w":118,"p":9},{"i":179,"w":260,"p":45},{"i":181,"w":202,"p":28},{"i":183,"w":340,"p":0},
{"i":185,"w":128,"p":61},{"i":187,"w":246,"p":36},{"i":189,"w":290,"p":12},{"i":191,"w":166,"p":54},
{"i":193,"w":104,"p":27},{"i":195,"w":272,"p":43},{"i":197,"w":186,"p":66},{"i":199,"w":314,"p":18},
{"i":201,"w":140,"p":35},{"i":203,"w":226,"p":52},{"i":205,"w":96,"p":9},{"i":207,"w":258,"p":40},
{"i":209,"w":322,"p":61},{"i":211,"w":178,"p":24},{"i":213,"w":130,"p":0},{"i":215,"w":244,"p":48},
{"i":217,"w":360,"p":33},{"i":219,"w":206,"p":75},{"i":221,"w":120,"p":12},{"i":223,"w":282,"p":44},
{"i":225,"w":168,"p":26},{"i":227,"w":236,"p":58},{"i":229,"w":304,"p":0},{"i":231,"w":144,"p":39},
{"i":233,"w":190,"p":64},{"i":235,"w":268,"p":20},{"i":237,"w":114,"p":47},{"i":239,"w":326,"p":30},
{"i":241,"w":216,"p":9},{"i":243,"w":132,"p":55},{"i":245,"w":258,"p":72},{"i":247,"w":298,"p":26},
{"i":249,"w":170,"p":41},{"i":251,"w":104,"p":17},{"i":253,"w":246,"p":60},{"i":255,"w":184,"p":35},
{"i":257,"w":338,"p":0},{"i":259,"w":126,"p":50},{"i":261,"w":214,"p":28},{"i":263,"w":276,"p":69},
{"i":265,"w":152,"p":12},{"i":267,"w":300,"p":44},{"i":269,"w":232,"p":23},{"i":271,"w":118,"p":57},
{"i":273,"w":260,"p":37},{"i":275,"w":196,"p":0},{"i":277,"w":340,"p":63},{"i":279,"w":138,"p":20},
{"i":281,"w":228,"p":46},{"i":283,"w":178,"p":29},{"i":285,"w":310,"p":74},{"i":287,"w":102,"p":12},
{"i":289,"w":250,"p":40},{"i":291,"w":192,"p":55},{"i":293,"w":286,"p":26},{"i":295,"w":146,"p":88},
{"i":297,"w":230,"p":140},{"i":299,"w":118,"p":36},{"i":301,"w":332,"p":50},{"i":303,"w":168,"p":9},
{"i":305,"w":262,"p":44},{"i":307,"w":206,"p":67},{"i":309,"w":140,"p":20},{"i":311,"w":300,"p":38},
{"i":313,"w":188,"p":58},{"i":315,"w":112,"p":0},{"i":317,"w":248,"p":46},{"i":319,"w":336,"p":27},
{"i":321,"w":174,"p":70},{"i":323,"w":236,"p":12},{"i":325,"w":130,"p":40},{"i":327,"w":290,"p":63},
{"i":329,"w":200,"p":31},{"i":331,"w":108,"p":48},{"i":333,"w":270,"p":9},{"i":335,"w":218,"p":55},
{"i":337,"w":150,"p":78},{"i":339,"w":328,"p":24},{"i":341,"w":122,"p":45},{"i":343,"w":256,"p":0},
{"i":345,"w":296,"p":60},{"i":347,"w":170,"p":35},{"i":349,"w":210,"p":17},{"i":351,"w":136,"p":52},
{"i":353,"w":318,"p":72},{"i":355,"w":184,"p":20},{"i":357,"w":244,"p":41},{"i":359,"w":114,"p":9},
{"i":361,"w":276,"p":58},{"i":363,"w":202,"p":33},{"i":365,"w":160,"p":0},{"i":367,"w":344,"p":49},
{"i":369,"w":126,"p":66},{"i":371,"w":232,"p":23},{"i":373,"w":292,"p":44},{"i":375,"w":158,"p":12},
{"i":377,"w":262,"p":61},{"i":379,"w":190,"p":86},{"i":381,"w":236,"p":40},{"i":383,"w":302,"p":17},
{"i":385,"w":140,"p":52},{"i":387,"w":218,"p":30},{"i":389,"w":276,"p":0},{"i":391,"w":106,"p":45},
{"i":393,"w":248,"p":68},{"i":395,"w":186,"p":22},{"i":397,"w":330,"p":48},{"i":399,"w":150,"p":12},
{"i":401,"w":214,"p":57},{"i":403,"w":290,"p":35},{"i":405,"w":128,"p":80},{"i":407,"w":180,"p":20},
{"i":409,"w":336,"p":46},{"i":411,"w":228,"p":102},{"i":413,"w":110,"p":29},{"i":415,"w":262,"p":9},
{"i":417,"w":198,"p":55},{"i":419,"w":312,"p":37},{"i":421,"w":144,"p":64},{"i":423,"w":236,"p":12},
{"i":425,"w":170,"p":48},{"i":427,"w":298,"p":26},{"i":429,"w":212,"p":70},{"i":431,"w":126,"p":0},
{"i":433,"w":266,"p":44},{"i":435,"w":340,"p":30},{"i":437,"w":160,"p":62},{"i":439,"w":232,"p":110},
{"i":441,"w":200,"p":40},{"i":443,"w":290,"p":17},{"i":445,"w":118,"p":52},{"i":447,"w":244,"p":33},
{"i":449,"w":316,"p":0},{"i":451,"w":176,"p":60},{"i":453,"w":136,"p":24},{"i":455,"w":278,"p":45},
{"i":457,"w":222,"p":12},{"i":459,"w":102,"p":58},{"i":461,"w":264,"p":36},{"i":463,"w":194,"p":71},
{"i":465,"w":330,"p":20},{"i":467,"w":146,"p":42},{"i":469,"w":250,"p":0},{"i":471,"w":208,"p":55},
{"i":473,"w":124,"p":30},{"i":475,"w":302,"p":66},{"i":477,"w":238,"p":12},{"i":479,"w":172,"p":47},
{"i":481,"w":318,"p":26},{"i":483,"w":130,"p":62},{"i":485,"w":226,"p":40},{"i":487,"w":282,"p":9},
{"i":489,"w":166,"p":55},{"i":491,"w":212,"p":90},{"i":493,"w":298,"p":38},{"i":495,"w":140,"p":20},
{"i":497,"w":252,"p":57},{"i":499,"w":194,"p":33},{"i":501,"w":340,"p":0},{"i":503,"w":120,"p":48},
{"i":505,"w":236,"p":70},{"i":507,"w":274,"p":96},{"i":509,"w":186,"p":24},{"i":511,"w":230,"p":80},
{"i":513,"w":304,"p":44},{"i":515,"w":156,"p":12},{"i":517,"w":210,"p":52},{"i":519,"w":330,"p":29},
{"i":521,"w":122,"p":66},{"i":523,"w":246,"p":75},{"i":525,"w":180,"p":30},{"i":527,"w":286,"p":9},
{"i":529,"w":144,"p":50},{"i":531,"w":220,"p":36},{"i":533,"w":310,"p":12},{"i":535,"w":168,"p":84},
{"i":537,"w":254,"p":40},{"i":539,"w":112,"p":22},{"i":541,"w":276,"p":58},{"i":543,"w":202,"p":33},
{"i":545,"w":322,"p":0},{"i":547,"w":134,"p":47},{"i":549,"w":242,"p":26},{"i":551,"w":188,"p":120},
{"i":553,"w":300,"p":60},{"i":555,"w":230,"p":24},{"i":557,"w":330,"p":45},{"i":559,"w":140,"p":12},
{"i":561,"w":220,"p":57},{"i":563,"w":182,"p":70},{"i":565,"w":278,"p":30},{"i":567,"w":106,"p":9},
{"i":569,"w":262,"p":50},{"i":571,"w":200,"p":36},{"i":573,"w":318,"p":62},{"i":575,"w":152,"p":20},
{"i":577,"w":240,"p":46},{"i":579,"w":294,"p":0},{"i":581,"w":176,"p":55},{"i":583,"w":122,"p":33},
{"i":585,"w":284,"p":80},{"i":587,"w":236,"p":110},{"i":589,"w":190,"p":40},{"i":591,"w":328,"p":12},
{"i":593,"w":148,"p":52},{"i":595,"w":226,"p":26},{"i":597,"w":302,"p":61},{"i":599,"w":172,"p":44},
{"i":601,"w":260,"p":60},{"i":603,"w":120,"p":20},{"i":605,"w":244,"p":38},{"i":607,"w":300,"p":55},
{"i":609,"w":160,"p":9},{"i":611,"w":214,"p":47},{"i":613,"w":266,"p":30},{"i":615,"w":132,"p":88},
{"i":617,"w":234,"p":100},{"i":619,"w":312,"p":20},{"i":621,"w":190,"p":45},{"i":623,"w":252,"p":64},
{"i":625,"w":146,"p":12},{"i":627,"w":206,"p":40},{"i":629,"w":338,"p":24},{"i":631,"w":170,"p":58},
{"i":633,"w":110,"p":0},{"i":635,"w":274,"p":44},{"i":637,"w":226,"p":68},{"i":639,"w":300,"p":110},
{"i":641,"w":250,"p":60},{"i":643,"w":160,"p":20},{"i":645,"w":208,"p":46},{"i":647,"w":284,"p":12},
{"i":649,"w":134,"p":57},{"i":651,"w":252,"p":30},{"i":653,"w":200,"p":0},{"i":655,"w":316,"p":62},
{"i":657,"w":164,"p":76},{"i":659,"w":240,"p":36},{"i":661,"w":276,"p":20},{"i":663,"w":182,"p":52},
{"i":665,"w":124,"p":9},{"i":667,"w":232,"p":45},{"i":669,"w":194,"p":66},{"i":671,"w":334,"p":28},
{"i":673,"w":138,"p":40},{"i":675,"w":264,"p":12},{"i":677,"w":220,"p":55},{"i":679,"w":172,"p":36},
{"i":681,"w":294,"p":0},{"i":683,"w":248,"p":60},{"i":685,"w":150,"p":30},{"i":687,"w":210,"p":48},
{"i":689,"w":270,"p":70},{"i":691,"w":184,"p":12},{"i":693,"w":316,"p":40},{"i":695,"w":122,"p":26},
{"i":697,"w":240,"p":57},{"i":699,"w":206,"p":35},{"i":701,"w":262,"p":9},{"i":703,"w":178,"p":52},
{"i":705,"w":300,"p":72},{"i":707,"w":226,"p":20},{"i":709,"w":132,"p":44},{"i":711,"w":286,"p":30},
{"i":713,"w":192,"p":60},{"i":715,"w":250,"p":12},{"i":717,"w":212,"p":48},{"i":719,"w":140,"p":66},
{"i":721,"w":332,"p":24},{"i":723,"w":228,"p":40},{"i":725,"w":102,"p":0},{"i":727,"w":270,"p":57},
{"i":729,"w":196,"p":36},{"i":731,"w":304,"p":110},{"i":733,"w":244,"p":86},{"i":735,"w":156,"p":30},
{"i":737,"w":290,"p":12},{"i":739,"w":218,"p":52},{"i":741,"w":140,"p":40},{"i":743,"w":256,"p":64},
{"i":745,"w":192,"p":20},{"i":747,"w":320,"p":45},{"i":749,"w":130,"p":9},{"i":751,"w":234,"p":60},
{"i":753,"w":286,"p":90},{"i":755,"w":180,"p":70},{"i":757,"w":244,"p":40},{"i":759,"w":196,"p":26},
{"i":761,"w":268,"p":50},{"i":763,"w":136,"p":12},{"i":765,"w":230,"p":44},{"i":767,"w":304,"p":60},
{"i":769,"w":164,"p":30},{"i":771,"w":250,"p":9},{"i":773,"w":212,"p":52},{"i":775,"w":290,"p":36},
{"i":777,"w":172,"p":66},{"i":779,"w":236,"p":20},{"i":781,"w":198,"p":48},{"i":783,"w":314,"p":26},
{"i":785,"w":124,"p":57},{"i":787,"w":262,"p":40},{"i":789,"w":222,"p":12},{"i":791,"w":138,"p":55},
{"i":793,"w":296,"p":30},{"i":795,"w":190,"p":68},{"i":797,"w":244,"p":44},{"i":799,"w":320,"p":20},
{"i":801,"w":160,"p":52},{"i":803,"w":226,"p":9},{"i":805,"w":276,"p":40},{"i":807,"w":118,"p":62},
{"i":809,"w":248,"p":80},{"i":811,"w":306,"p":30},{"i":813,"w":196,"p":48},{"i":815,"w":236,"p":12},
{"i":817,"w":262,"p":36},{"i":819,"w":140,"p":58},{"i":821,"w":296,"p":24},{"i":823,"w":202,"p":44},
{"i":825,"w":168,"p":70},{"i":827,"w":254,"p":20},{"i":829,"w":218,"p":38},{"i":831,"w":322,"p":0},
{"i":833,"w":132,"p":55},{"i":835,"w":270,"p":30},{"i":837,"w":210,"p":46},{"i":839,"w":298,"p":66},
{"i":841,"w":176,"p":12},{"i":843,"w":234,"p":48},{"i":845,"w":150,"p":28},{"i":847,"w":282,"p":57},
{"i":849,"w":246,"p":36},{"i":851,"w":330,"p":80},{"i":853,"w":208,"p":60},{"i":855,"w":126,"p":24},
{"i":857,"w":250,"p":46},{"i":859,"w":302,"p":30},{"i":861,"w":180,"p":55},{"i":863,"w":244,"p":12},
{"i":865,"w":200,"p":40},{"i":867,"w":272,"p":66},{"i":869,"w":150,"p":20},{"i":871,"w":226,"p":48},
{"i":873,"w":312,"p":30},{"i":875,"w":184,"p":60},{"i":877,"w":232,"p":70},{"i":879,"w":268,"p":22},
{"i":881,"w":124,"p":44},{"i":883,"w":238,"p":57},{"i":885,"w":298,"p":90},{"i":887,"w":194,"p":40},
{"i":889,"w":250,"p":100},{"i":891,"w":320,"p":26},{"i":893,"w":206,"p":52},{"i":895,"w":142,"p":30},
{"i":897,"w":260,"p":9},{"i":899,"w":222,"p":60},{"i":901,"w":296,"p":44},{"i":903,"w":168,"p":20},
{"i":905,"w":248,"p":52},{"i":907,"w":190,"p":36},{"i":909,"w":300,"p":70},{"i":911,"w":226,"p":12},
{"i":913,"w":130,"p":46},{"i":915,"w":272,"p":28},{"i":917,"w":338,"p":80},{"i":919,"w":198,"p":40},
{"i":921,"w":252,"p":20},{"i":923,"w":186,"p":52},{"i":925,"w":290,"p":60},{"i":927,"w":146,"p":30},
{"i":929,"w":232,"p":9},{"i":931,"w":318,"p":46},{"i":933,"w":208,"p":66},{"i":935,"w":276,"p":36},
{"i":937,"w":342,"p":70},{"i":939,"w":156,"p":20},{"i":941,"w":224,"p":44},{"i":943,"w":190,"p":57},
{"i":945,"w":304,"p":26},{"i":947,"w":238,"p":12},{"i":949,"w":270,"p":50},{"i":951,"w":136,"p":36},
{"i":953,"w":252,"p":64},{"i":955,"w":178,"p":22},{"i":957,"w":308,"p":48},{"i":959,"w":216,"p":30},
{"i":961,"w":266,"p":9},{"i":963,"w":160,"p":55},{"i":965,"w":292,"p":80},{"i":967,"w":212,"p":40},
{"i":969,"w":246,"p":20},{"i":971,"w":150,"p":46},{"i":973,"w":286,"p":30},{"i":975,"w":204,"p":60},
{"i":977,"w":236,"p":12},{"i":979,"w":174,"p":48},{"i":981,"w":312,"p":36},{"i":983,"w":266,"p":70},
{"i":985,"w":330,"p":44},{"i":987,"w":190,"p":22},{"i":989,"w":256,"p":66},{"i":991,"w":140,"p":40},
{"i":993,"w":298,"p":52},{"i":995,"w":224,"p":9},{"i":997,"w":318,"p":44},{"i":999,"w":158,"p":30},
{"i":1001,"w":240,"p":55},{"i":1003,"w":206,"p":20},{"i":1005,"w":290,"p":46},{"i":1007,"w":242,"p":28},
{"i":1009,"w":310,"p":12},{"i":1011,"w":170,"p":57},{"i":1013,"w":228,"p":40},{"i":1015,"w":280,"p":64},
{"i":1017,"w":152,"p":22},{"i":1019,"w":246,"p":50},{"i":1021,"w":196,"p":36},{"i":1023,"w":300,"p":86},
{"i":1025,"w":270,"p":110},{"i":1027,"w":164,"p":40},{"i":1029,"w":232,"p":20},{"i":1031,"w":290,"p":66},
{"i":1033,"w":240,"p":100},{"i":1035,"w":320,"p":44},{"i":1037,"w":190,"p":30},{"i":1039,"w":236,"p":12},
{"i":1041,"w":276,"p":52},{"i":1043,"w":160,"p":36},{"i":1045,"w":290,"p":60},{"i":1047,"w":338,"p":120},
{"i":1049,"w":256,"p":90},{"i":1051,"w":180,"p":40},{"i":1053,"w":240,"p":20},{"i":1055,"w":206,"p":57},
{"i":1057,"w":280,"p":44},{"i":1059,"w":142,"p":26},{"i":1061,"w":250,"p":12},{"i":1063,"w":310,"p":60},
{"i":1065,"w":266,"p":70},{"i":1067,"w":190,"p":36},{"i":1069,"w":228,"p":48},{"i":1071,"w":160,"p":20},
{"i":1073,"w":286,"p":55},{"i":1075,"w":250,"p":80},{"i":1077,"w":198,"p":40},{"i":1079,"w":306,"p":24},
{"i":1081,"w":226,"p":46},{"i":1083,"w":150,"p":30},{"i":1085,"w":270,"p":12},{"i":1087,"w":232,"p":52},
{"i":1089,"w":296,"p":66},{"i":1091,"w":176,"p":38},{"i":1093,"w":246,"p":22},{"i":1095,"w":282,"p":57},
{"i":1097,"w":194,"p":36},{"i":1099,"w":264,"p":12},{"i":1101,"w":322,"p":60},{"i":1103,"w":160,"p":44},
{"i":1105,"w":232,"p":26},{"i":1107,"w":300,"p":48},{"i":1109,"w":210,"p":66},{"i":1111,"w":146,"p":30},
{"i":1113,"w":260,"p":52},{"i":1115,"w":336,"p":80},{"i":1117,"w":280,"p":70},{"i":1119,"w":232,"p":40},
{"i":1121,"w":300,"p":20},{"i":1123,"w":190,"p":46},{"i":1125,"w":246,"p":30}
    ]
  },
  "encoding": {
    "x": {
      "field": "i", "type": "quantitative",
      "scale": {"domain": [-56.35, 1183.35], "nice": false, "zero": false},
      "axis": {"values": [0, 200, 400, 600, 800, 1000], "title": null, "grid": false, "domain": false, "format": "d"}
    },
    "y": {
      "field": "value", "type": "quantitative",
      "scale": {"domain": [-51.2, 820.6], "nice": false, "zero": false},
      "axis": {"values": [0, 100, 200, 300, 400, 500, 600, 700, 800], "title": null, "grid": false, "domain": false, "format": "d"}
    },
    "color": {
      "field": "key", "type": "nominal",
      "scale": {
        "domain": ["e", "d", "w", "h", "r", "b", "p", "m"],
        "range": ["#1f77b4", "#ff7f0e", "#2ca02c", "#d62728", "#9467bd", "#8c564b", "#e377c2", "#7f7f7f"]
      },
      "legend": {
        "title": null,
        "orient": "none",
        "legendX": 6,
        "legendY": 7,
        "labelExpr": "datum.label == 'e' ? 'ESOL solubility (mol/L)' : datum.label == 'd' ? 'Minimum Degree' : datum.label == 'w' ? 'Molecular Weight' : datum.label == 'h' ? 'Number of H-Bond Donors' : datum.label == 'r' ? 'Number of Rings' : datum.label == 'b' ? 'Number of Rotatable Bonds' : datum.label == 'p' ? 'Polar Surface Area' : 'measured solubility (mol/L)'"
      }
    }
  },
  "layer": [
    {"data": {"name": "small"}, "transform": [{"fold": ["e"]}], "mark": {"type": "line", "strokeWidth": 2}},
    {"data": {"name": "small"}, "transform": [{"fold": ["d"]}], "mark": {"type": "line", "strokeWidth": 2}},
    {"data": {"name": "big"}, "transform": [{"fold": ["w"]}], "mark": {"type": "line", "strokeWidth": 2}},
    {"data": {"name": "small"}, "transform": [{"fold": ["h"]}], "mark": {"type": "line", "strokeWidth": 2}},
    {"data": {"name": "small"}, "transform": [{"fold": ["r"]}], "mark": {"type": "line", "strokeWidth": 2}},
    {"data": {"name": "small"}, "transform": [{"fold": ["b"]}], "mark": {"type": "line", "strokeWidth": 2}},
    {"data": {"name": "big"}, "transform": [{"fold": ["p"]}], "mark": {"type": "line", "strokeWidth": 2}},
    {"data": {"name": "small"}, "transform": [{"fold": ["m"]}], "mark": {"type": "line", "strokeWidth": 2}}
  ],
  "config": {
    "view": {"stroke": "black", "strokeWidth": 1},
    "font": "DejaVu Sans",
    "axis": {
      "labelFont": "DejaVu Sans", "labelFontSize": 13.9, "labelColor": "black",
      "tickColor": "black", "tickSize": 4.9, "tickWidth": 1, "labelPadding": 4.9
    },
    "legend": {
      "labelFont": "DejaVu Sans", "labelFontSize": 13.9, "labelColor": "black", "labelLimit": 0,
      "symbolType": "M-1,0H3", "symbolSize": 196, "symbolStrokeWidth": 2, "symbolFillColor": "transparent",
      "labelOffset": 25, "rowPadding": 5.8, "padding": 6,
      "fillColor": "rgba(255,255,255,0.8)", "strokeColor": "#cccccc", "cornerRadius": 3
    }
  }
}
